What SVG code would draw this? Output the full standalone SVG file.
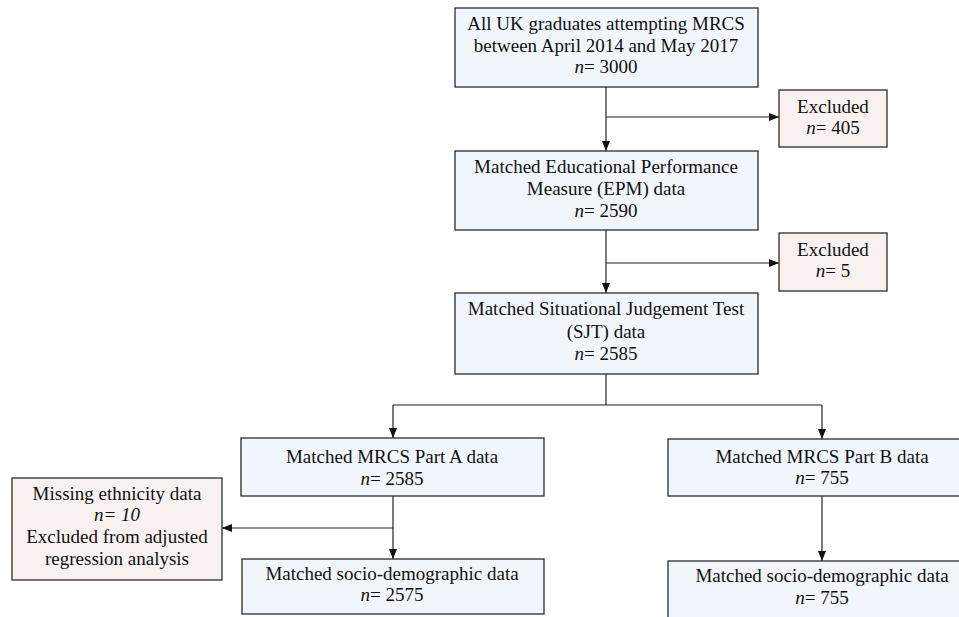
<svg xmlns="http://www.w3.org/2000/svg" width="959" height="617" viewBox="0 0 959 617">
<style>
text{font-family:"Liberation Serif","Times New Roman",serif;font-size:19px;fill:#111;text-anchor:middle}
.b{fill:#F0F6FC;stroke:#2b2b2b;stroke-width:1.3}
.p{fill:#F8F1EF;stroke:#2b2b2b;stroke-width:1.3}
.c{fill:none;stroke:#222;stroke-width:1.2}
.i{font-style:italic}
</style>
<defs>
<marker id="ah" markerWidth="10" markerHeight="10" refX="10" refY="5" orient="auto" markerUnits="userSpaceOnUse">
<path d="M0,1 L10,5 L0,9 Z" fill="#111"/>
</marker>
</defs>
<rect width="959" height="617" fill="#fff"/>
<g id="connectors">
<path class="c" d="M606,87 V151" marker-end="url(#ah)"/>
<path class="c" d="M606,117 H779" marker-end="url(#ah)"/>
<path class="c" d="M606,230 V293" marker-end="url(#ah)"/>
<path class="c" d="M606,263 H779" marker-end="url(#ah)"/>
<path class="c" d="M606,374 V405"/>
<path class="c" d="M393,405 H822"/>
<path class="c" d="M393,405 V438" marker-end="url(#ah)"/>
<path class="c" d="M822,405 V439" marker-end="url(#ah)"/>
<path class="c" d="M393,496 V559" marker-end="url(#ah)"/>
<path class="c" d="M393,528 H222" marker-end="url(#ah)"/>
<path class="c" d="M822,496 V561" marker-end="url(#ah)"/>
</g>
<g id="n1">
<rect class="b" x="455" y="8" width="303" height="79"/>
<text x="606" y="30">All UK graduates attempting MRCS</text>
<text x="606" y="52">between April 2014 and May 2017</text>
<text x="606" y="73"><tspan class="i">n</tspan>= 3000</text>
</g>
<g id="ex1">
<rect class="p" x="779" y="90" width="108" height="57"/>
<text x="833" y="113">Excluded</text>
<text x="833" y="134"><tspan class="i">n</tspan>= 405</text>
</g>
<g id="n2">
<rect class="b" x="455" y="151" width="303" height="79"/>
<text x="606" y="173">Matched Educational Performance</text>
<text x="606" y="195">Measure (EPM) data</text>
<text x="606" y="217"><tspan class="i">n</tspan>= 2590</text>
</g>
<g id="ex2">
<rect class="p" x="779" y="233" width="108" height="58"/>
<text x="833" y="256">Excluded</text>
<text x="833" y="277"><tspan class="i">n</tspan>= 5</text>
</g>
<g id="n3">
<rect class="b" x="455" y="293" width="303" height="81"/>
<text x="606" y="315">Matched Situational Judgement Test</text>
<text x="606" y="338">(SJT) data</text>
<text x="606" y="360"><tspan class="i">n</tspan>= 2585</text>
</g>
<g id="n4">
<rect class="b" x="241" y="438" width="303" height="58"/>
<text x="392" y="463">Matched MRCS Part A data</text>
<text x="392" y="485"><tspan class="i">n</tspan>= 2585</text>
</g>
<g id="n5">
<rect class="b" x="668" y="439" width="310" height="57"/>
<text x="822" y="463">Matched MRCS Part B data</text>
<text x="822" y="484"><tspan class="i">n</tspan>= 755</text>
</g>
<g id="miss">
<rect class="p" x="12" y="478" width="210" height="102"/>
<text x="117" y="500">Missing ethnicity data</text>
<text x="117" y="521" class="i">n= 10</text>
<text x="117" y="543">Excluded from adjusted</text>
<text x="117" y="565">regression analysis</text>
</g>
<g id="n6">
<rect class="b" x="242" y="559" width="302" height="55"/>
<text x="392" y="580">Matched socio-demographic data</text>
<text x="392" y="601"><tspan class="i">n</tspan>= 2575</text>
</g>
<g id="n7">
<rect class="b" x="668" y="561" width="310" height="60"/>
<text x="822" y="582">Matched socio-demographic data</text>
<text x="822" y="604"><tspan class="i">n</tspan>= 755</text>
</g>
</svg>
